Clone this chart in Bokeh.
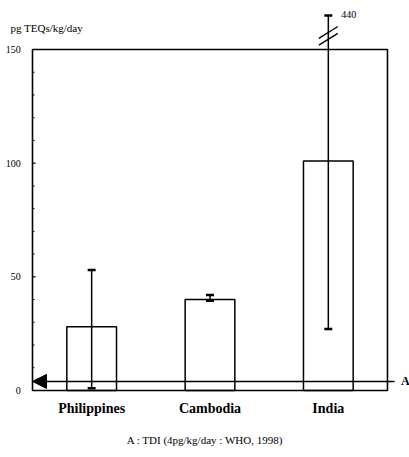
from bokeh.plotting import figure
from bokeh.models import (Range1d, FixedTicker, BoxAnnotation, Arrow, NormalHead,
                          ColumnDataSource)
from bokeh.core.properties import value
from bokeh.embed import file_html
from bokeh.resources import INLINE

# ---- data ----
categories = ["Philippines", "Cambodia", "India"]
means = [28, 40, 101]
err_low = [1, 39.5, 27]
err_high = [53, 42, 440]
y_ticks = [0, 50, 100, 150]
y_minor = list(range(0, 151, 10))
tdi_value = 4
y_label = "pg TEQs/kg/day"
caption = "A : TDI (4pg/kg/day : WHO, 1998)"
axis_max = 150
break_display = 165  # where the off-scale bar is drawn broken

SERIF = "Liberation Serif"

xs = [i + 0.5 for i in range(len(categories))]
hi_disp = [min(h, break_display) for h in err_high]

W, H = 409, 457
p = figure(width=W, height=H, output_backend="svg", toolbar_location=None,
           x_range=Range1d(-0.2704, 3.186), y_range=Range1d(-3.08, 171.55),
           min_border_left=0, min_border_right=0, min_border_top=0,
           min_border_bottom=60)
p.outline_line_color = None
p.grid.visible = False
p.background_fill_color = "white"
p.yaxis.visible = False

# x axis: category labels + caption
p.xaxis.ticker = FixedTicker(ticks=xs)
p.xaxis.major_label_overrides = {x: c for x, c in zip(xs, categories)}
p.xaxis.axis_line_color = None
p.xaxis.major_tick_line_color = None
p.xaxis.minor_tick_line_color = None
p.xaxis.major_tick_out = 0
p.xaxis.major_tick_in = 0
p.xaxis.major_label_text_font = SERIF
p.xaxis.major_label_text_font_style = "bold"
p.xaxis.major_label_text_font_size = "14px"
p.xaxis.major_label_text_color = "black"
p.xaxis.major_label_standoff = 3
p.xaxis.axis_label = caption
p.xaxis.axis_label_text_font = SERIF
p.xaxis.axis_label_text_font_style = "normal"
p.xaxis.axis_label_text_font_size = "11px"
p.xaxis.axis_label_text_color = "black"
p.xaxis.axis_label_standoff = 15

# y tick labels and inward ticks, drawn on the data scale
p.text(x=-0.1, y=y_ticks, text=[str(t) for t in y_ticks], text_font=value(SERIF),
       text_font_size="10px", text_align="right", text_baseline="middle",
       text_color="black")
p.segment(x0=0, y0=y_minor, x1=0.017, y1=y_minor, line_color="black", line_width=1)
p.segment(x0=0, y0=y_ticks, x1=0.027, y1=y_ticks, line_color="black", line_width=1)
p.text(x=-0.186, y=[159.5], text=[y_label], text_font=value(SERIF),
       text_font_size="11px", text_align="left", text_baseline="middle",
       text_color="black")

# bars
src = ColumnDataSource(dict(x=xs, top=means, lo=err_low, hi=hi_disp))
p.vbar(x="x", top="top", bottom=0, width=0.42, source=src,
       fill_color="white", line_color="black", line_width=1.5)

# error bars
p.segment(x0="x", y0="lo", x1="x", y1="hi", source=src,
          line_color="black", line_width=1.5)
p.scatter(x="x", y="lo", source=src, marker="dash", size=8,
          line_color="black", line_width=2.5)
p.scatter(x="x", y="hi", source=src, marker="dash", size=8,
          line_color="black", line_width=2.5)

# axis break marks on India error bar
bi = 2
bx = xs[bi]
for c in (157.5, 154.5):
    p.segment(x0=[bx - 0.08], y0=[c - 2.6], x1=[bx + 0.08], y1=[c + 2.6],
              line_color="black", line_width=1.3)
p.text(x=[bx + 0.11], y=[break_display + 0.5], text=[str(err_high[bi])],
       text_font=value(SERIF), text_font_size="10px", text_align="left",
       text_baseline="middle", text_color="black")

# frame box
p.add_layout(BoxAnnotation(left=0, right=len(categories), bottom=0, top=axis_max,
                           fill_alpha=0, line_color="black", line_alpha=1,
                           line_width=1.6))

# TDI arrow
p.add_layout(Arrow(end=NormalHead(size=14, fill_color="black", line_color="black"),
                   x_start=3.06, y_start=tdi_value, x_end=0.0, y_end=tdi_value,
                   line_color="black", line_width=1.5))
p.text(x=[3.115], y=[tdi_value], text=["A"], text_font=value(SERIF),
       text_font_style="bold", text_font_size="12px", text_align="left",
       text_baseline="middle", text_color="black")

open("out.html", "w").write(file_html(p, INLINE))
